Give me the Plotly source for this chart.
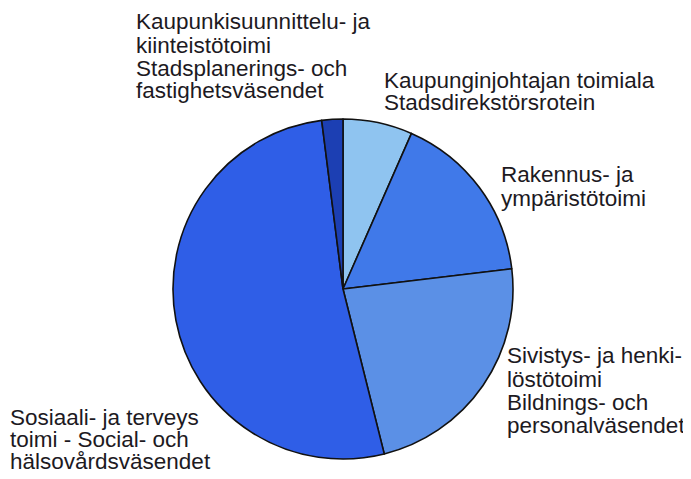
import plotly.graph_objects as go

categories = [
    "Kaupunginjohtajan toimiala",
    "Rakennus- ja ympäristötoimi",
    "Sivistys- ja henkilöstötoimi",
    "Sosiaali- ja terveys toimi",
    "Kaupunkisuunnittelu- ja kiinteistötoimi",
]
values = [6.6, 16.5, 23.0, 51.9, 2.0]
colors = ["#8fc4f0", "#4079e9", "#5b90e6", "#2f5ee7", "#1c3fb3"]

label_lines = [
    (["Kaupunkisuunnittelu- ja", "kiinteistötoimi", "Stadsplanerings- och", "fastighetsväsendet"], 135, [29, 53, 76, 98]),
    (["Kaupunginjohtajan toimiala", "Stadsdirekstörsrotein"], 383, [88, 110]),
    (["Rakennus- ja", "ympäristötoimi"], 500, [182, 206]),
    (["Sivistys- ja henki-", "löstötoimi", "Bildnings- och", "personalväsendet"], 506, [363, 387, 410, 433]),
    (["Sosiaali- ja terveys", "toimi - Social- och", "hälsovårdsväsendet"], 9, [425, 447, 469]),
]

W, H = 691, 479
OFF = 8  # page body margin
FS = 22.5
cx, cy, r = 343 - OFF, 289 - OFF, 170

fig = go.Figure(go.Pie(
    labels=categories,
    values=values,
    sort=False,
    direction="clockwise",
    rotation=0,
    marker=dict(colors=colors, line=dict(color="#111111", width=1.6)),
    textinfo="none",
    hoverinfo="label+percent",
    showlegend=False,
    domain=dict(x=[(cx - r) / W, (cx + r) / W], y=[(H - (cy + r)) / H, (H - (cy - r)) / H]),
))

annotations = []
for lines, x0, baselines in label_lines:
    for txt, b in zip(lines, baselines):
        annotations.append(dict(
            text=txt, x=(x0 - OFF) / W, y=(H - (b - OFF - 0.35 * FS)) / H,
            xref="paper", yref="paper", xanchor="left", yanchor="middle",
            showarrow=False, borderpad=0,
            font=dict(family="Liberation Sans, Arial, sans-serif", size=FS, color="#1d1a1f"),
        ))

fig.update_layout(
    width=W, height=H,
    margin=dict(l=0, r=0, t=0, b=0),
    paper_bgcolor="white", plot_bgcolor="white",
    annotations=annotations,
)

fig.write_html("out.html")
